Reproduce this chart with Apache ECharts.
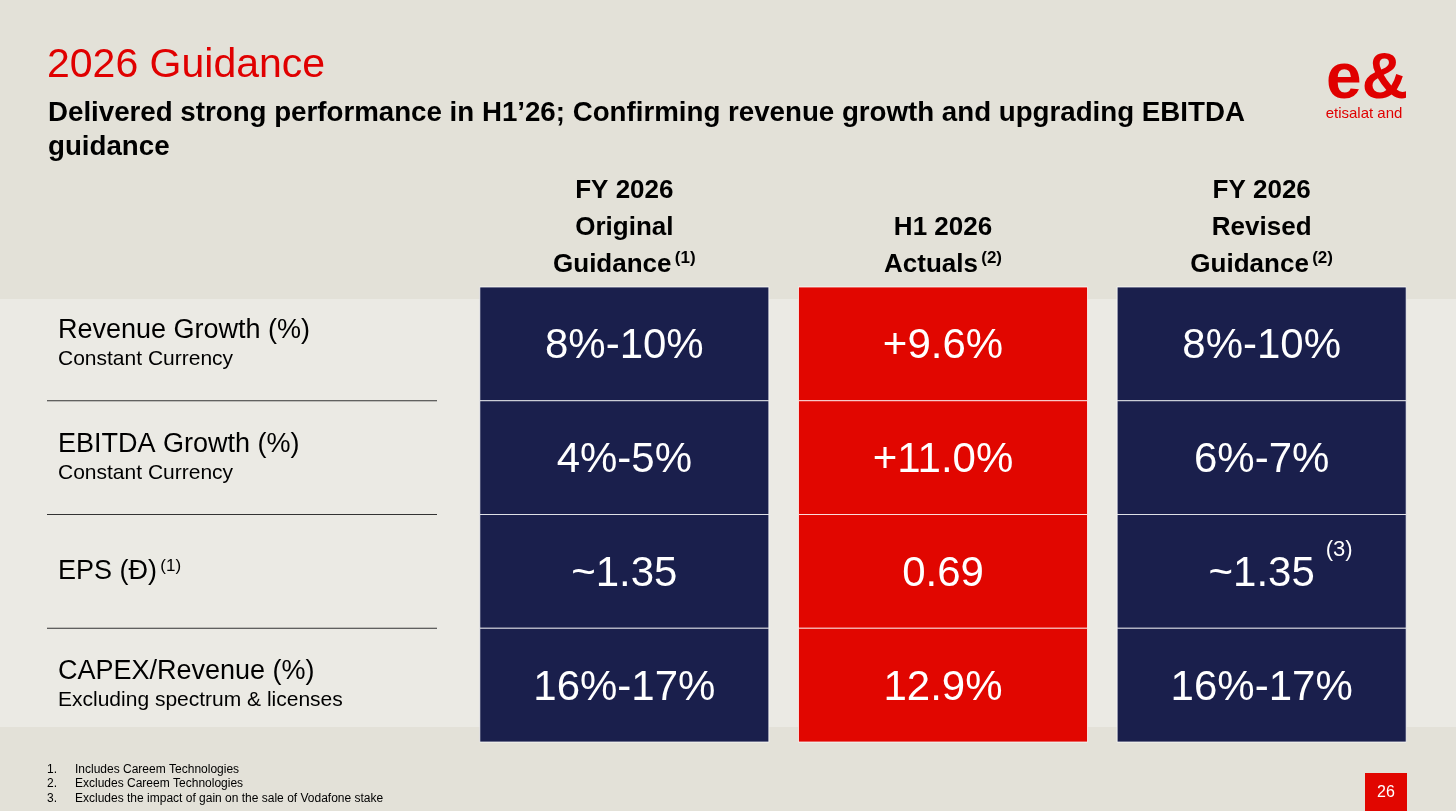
<!DOCTYPE html>
<html>
<head>
    <meta http-equiv="Content-Type" content="text/html; charset=utf-8"/>
    <script type="text/javascript" src="https://cdn.jsdelivr.net/npm/echarts@6/dist/echarts.min.js"></script>
    <style>
        html, body {
            margin: 0;
            padding: 0;
            background: #e3e1d8;
        }

        #main {
            width: 1456px;
            height: 811px;
        }
    </style>
</head>
<body>
<div id="main"></div>
<script type="text/javascript">
    // 表头（列）
    var columns = ['FY 2026\nOriginal\nGuidance', 'H1 2026\nActuals', 'FY 2026\nRevised\nGuidance'];
    var columnNotes = ['(1)', '(2)', '(2)'];
    var columnColors = ['#1a1f4c', '#e10600', '#1a1f4c'];
    // 行（指标）
    var metrics = ['Revenue Growth (%)', 'EBITDA Growth (%)', 'EPS (Đ)', 'CAPEX/Revenue (%)'];
    var metricSubs = ['Constant Currency', 'Constant Currency', '', 'Excluding spectrum & licenses'];
    var metricNotes = ['', '', '(1)', ''];
    // 数值
    var originalGuidance = ['8%-10%', '4%-5%', '~1.35', '16%-17%'];
    var h1Actuals = ['+9.6%', '+11.0%', '0.69', '12.9%'];
    var revisedGuidance = ['8%-10%', '6%-7%', '~1.35', '16%-17%'];
    var revisedNotes = ['', '', '(3)', ''];
    var footnotes = [
        'Includes Careem Technologies',
        'Excludes Careem Technologies',
        'Excludes the impact of gain on the sale of Vodafone stake'
    ];

    var FAMILY = '"Liberation Sans", Arial, sans-serif';
    var columnValues = [originalGuidance, h1Actuals, revisedGuidance];
    var cellNotes = [['', '', '', ''], ['', '', '', ''], revisedNotes];

    var cells = [];
    for (var c = 0; c < columns.length; c++) {
        for (var r = 0; r < metrics.length; r++) {
            cells.push([c, r, columnValues[c][r], cellNotes[c][r]]);
        }
    }

    var myChart = echarts.init(document.getElementById('main'));

    var option = {
        backgroundColor: '#e3e1d8',
        animation: false,
        graphic: [
            // 中间浅色带
            {type: 'rect', z: -10, shape: {x: 0, y: 299, width: 1456, height: 428}, style: {fill: '#ebeae4'}},
            // 标题
            {
                type: 'text', left: 47, top: 45,
                style: {text: '2026 Guidance', fill: '#e00000', fontSize: 41, fontFamily: FAMILY}
            },
            {
                type: 'text', left: 48, top: 96,
                style: {
                    text: 'Delivered strong performance in H1\u201926; Confirming revenue growth and upgrading EBITDA\nguidance',
                    fill: '#000', fontSize: 27.7, fontWeight: 'bold', fontFamily: FAMILY, lineHeight: 34
                }
            },
            // logo
            {
                type: 'text', x: 1367, y: 80,
                style: {
                    text: 'e&', fill: '#e00000', fontSize: 64, fontWeight: 'bold', fontFamily: FAMILY,
                    align: 'center', verticalAlign: 'middle'
                }
            },
            {
                type: 'text', x: 1364, y: 114,
                style: {
                    text: 'etisalat and', fill: '#e00000', fontSize: 15, fontFamily: FAMILY,
                    align: 'center', verticalAlign: 'middle'
                }
            },
            // 脚注
            {
                type: 'text', left: 47, top: 762,
                style: {text: '1.\n2.\n3.', fill: '#000', fontSize: 12, fontFamily: FAMILY, lineHeight: 14.5}
            },
            {
                type: 'text', left: 75, top: 762,
                style: {text: footnotes.join('\n'), fill: '#000', fontSize: 12, fontFamily: FAMILY, lineHeight: 14.5}
            },
            // 页码
            {type: 'rect', shape: {x: 1365, y: 773, width: 42, height: 38}, style: {fill: '#e10600'}},
            {
                type: 'text', x: 1386, y: 793,
                style: {
                    text: '26', fill: '#fff', fontSize: 16, fontFamily: FAMILY,
                    align: 'center', verticalAlign: 'middle'
                }
            }
        ],
        grid: {
            left: 465,
            right: 35,
            top: 287,
            bottom: 69
        },
        xAxis: {
            type: 'category',
            position: 'top',
            data: columns,
            axisLine: {show: false},
            axisTick: {show: false},
            splitLine: {show: false},
            axisLabel: {
                margin: 4,
                formatter: function (value, idx) {
                    var lines = value.split('\n');
                    var last = lines.length - 1;
                    return lines.map(function (l, i) {
                        return i === last ? '{h|' + l + '} {s|' + columnNotes[idx] + '}' : '{h|' + l + '}';
                    }).join('\n');
                },
                rich: {
                    h: {fontSize: 26, fontWeight: 'bold', fontFamily: FAMILY, color: '#000', lineHeight: 37},
                    s: {fontSize: 17, fontWeight: 'bold', fontFamily: FAMILY, color: '#000', lineHeight: 37, verticalAlign: 'top', padding: [4, 0, 0, 0]}
                }
            }
        },
        yAxis: {
            type: 'category',
            inverse: true,
            data: metrics,
            axisLine: {show: false},
            axisTick: {show: false},
            splitLine: {show: false},
            axisLabel: {
                align: 'left',
                margin: 407,
                formatter: function (value, idx) {
                    var s = '{m|' + value + '}';
                    if (metricNotes[idx]) s += ' {n|' + metricNotes[idx] + '}';
                    if (metricSubs[idx]) s += '\n{s|' + metricSubs[idx] + '}';
                    return s;
                },
                rich: {
                    m: {fontSize: 27, fontFamily: FAMILY, color: '#000', lineHeight: 31},
                    n: {fontSize: 17, fontFamily: FAMILY, color: '#000', lineHeight: 31, verticalAlign: 'top', padding: [2, 0, 0, 0]},
                    s: {fontSize: 21, fontFamily: FAMILY, color: '#000', lineHeight: 27}
                }
            }
        },
        series: [{
            type: 'custom',
            data: cells,
            renderItem: function (params, api) {
                var col = api.value(0);
                var row = api.value(1);
                var pt = api.coord([col, row]);
                var size = api.size([1, 1]);
                var w = size[0] * 0.907;
                var h = size[1];
                var children = [{
                    type: 'rect',
                    shape: {x: pt[0] - w / 2, y: pt[1] - h / 2, width: w, height: h},
                    style: {fill: columnColors[col], stroke: 'rgba(255,255,255,0.75)', lineWidth: 1}
                }, {
                    type: 'text',
                    x: pt[0], y: pt[1] + 3,
                    style: {
                        text: cells[params.dataIndex][2], fill: '#fff', fontSize: 42, fontFamily: FAMILY,
                        align: 'center', verticalAlign: 'middle'
                    }
                }];
                var note = cells[params.dataIndex][3];
                if (note) {
                    children.push({
                        type: 'text',
                        x: pt[0] + 64, y: pt[1] - 21,
                        style: {
                            text: note, fill: '#fff', fontSize: 22, fontFamily: FAMILY,
                            align: 'left', verticalAlign: 'middle'
                        }
                    });
                }
                // 左侧分隔线
                if (col === 0 && row < metrics.length - 1) {
                    children.push({
                        type: 'line',
                        shape: {x1: 47, y1: pt[1] + h / 2, x2: 437, y2: pt[1] + h / 2},
                        style: {stroke: '#333', lineWidth: 1}
                    });
                }
                return {type: 'group', children: children};
            }
        }]
    };
    myChart.setOption(option);
</script>
</body>
</html>
